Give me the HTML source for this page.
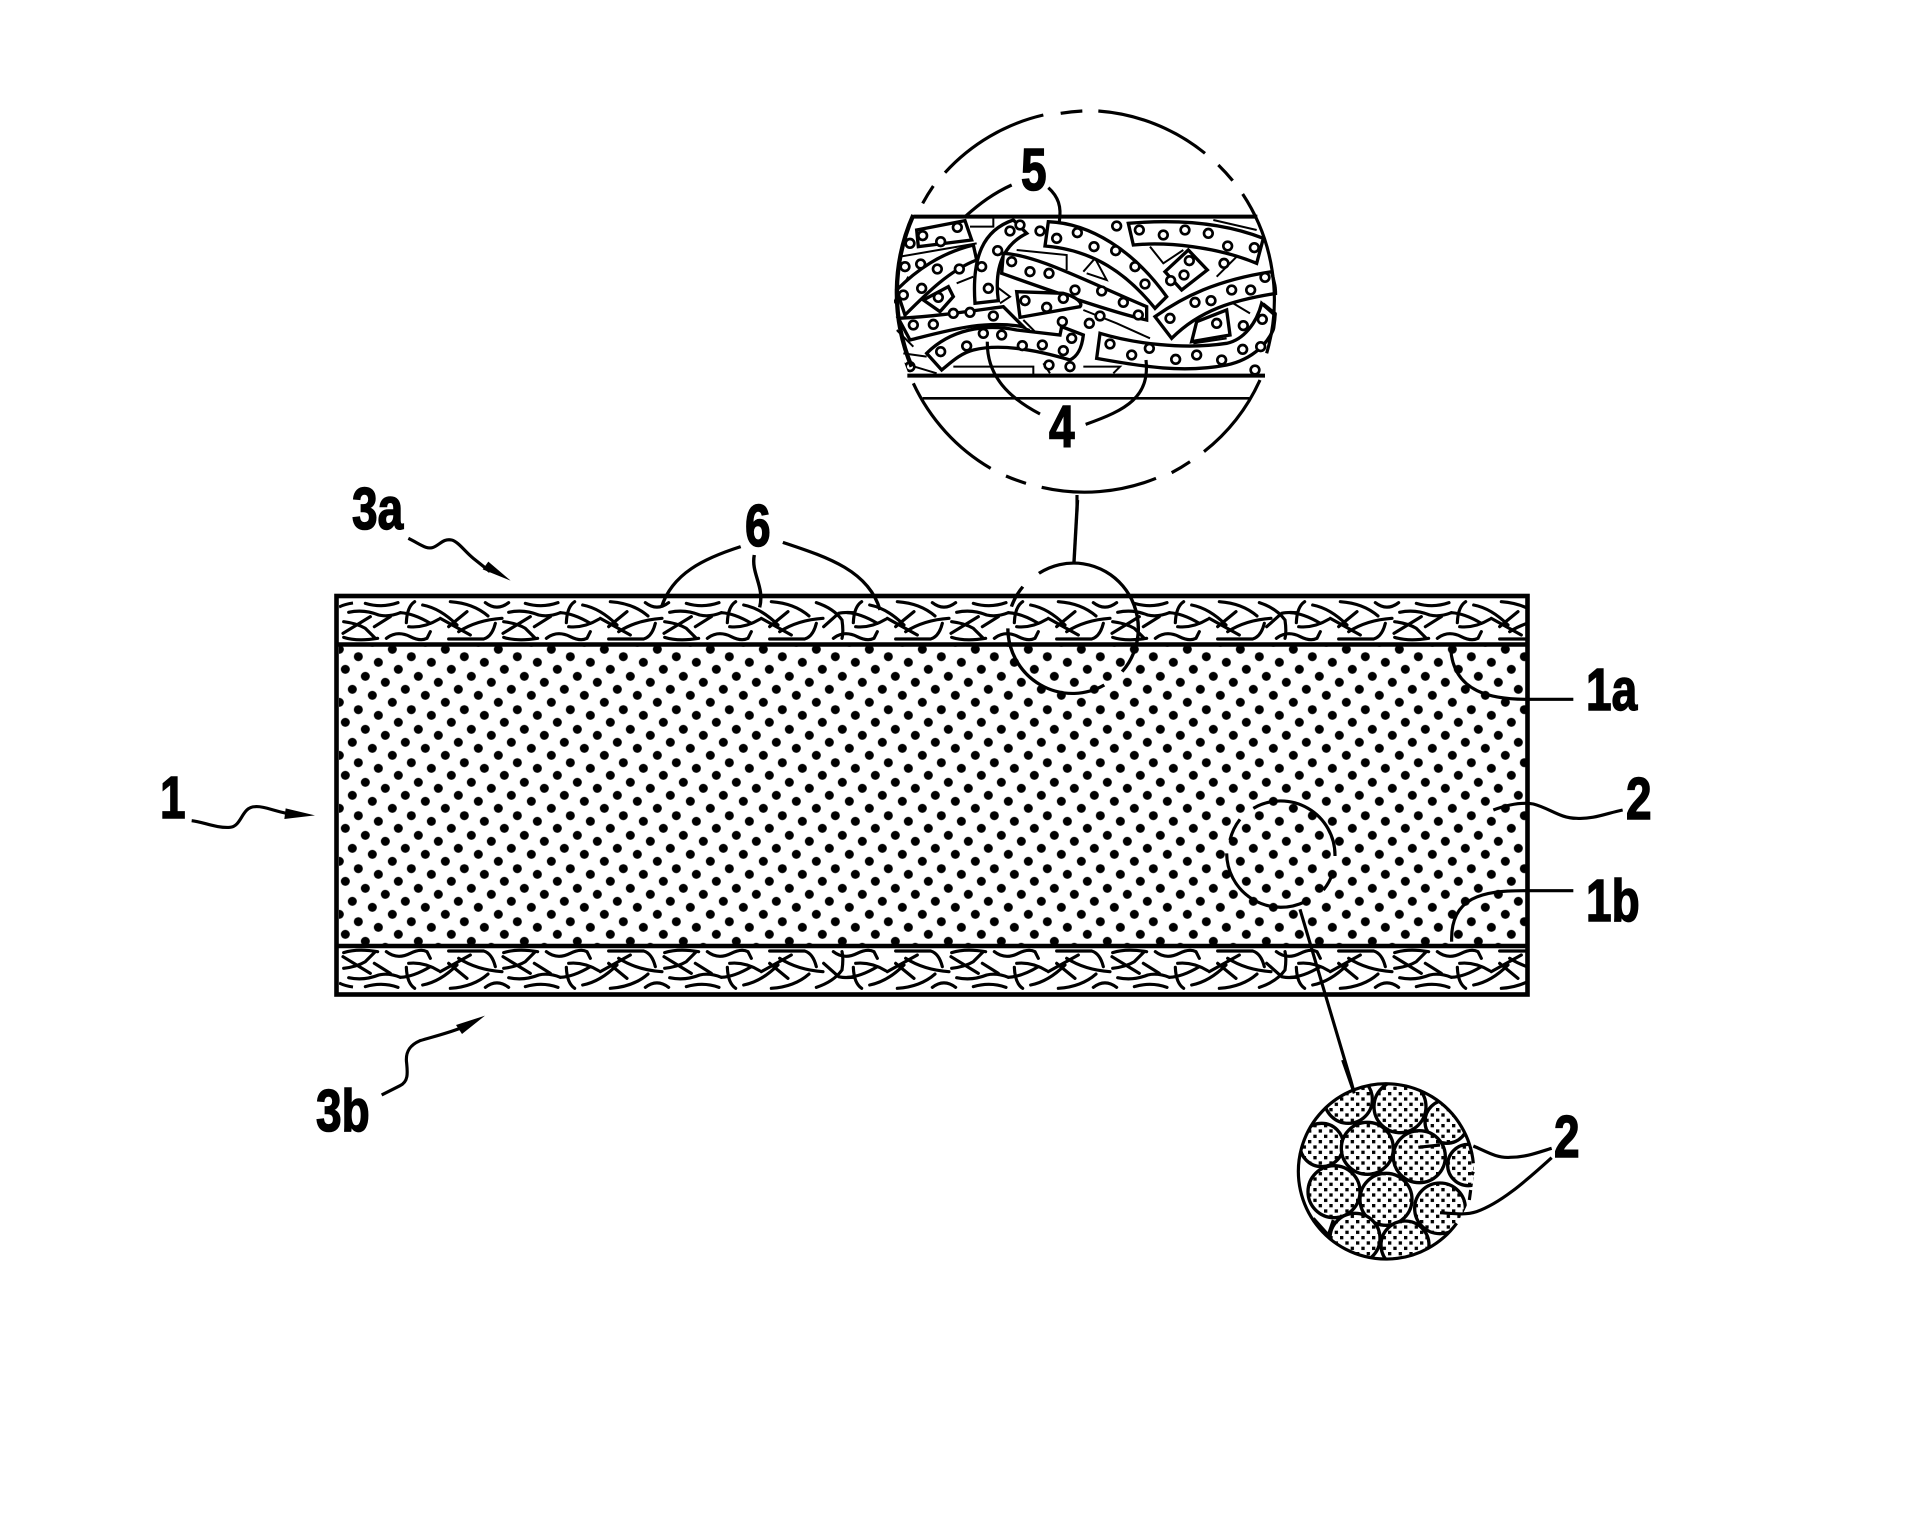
<!DOCTYPE html>
<html>
<head>
<meta charset="utf-8">
<style>
html,body{margin:0;padding:0;background:#fff;}
svg{display:block;}
text{font-family:"Liberation Sans",sans-serif;font-weight:bold;font-size:59px;fill:#000;stroke:#000;stroke-width:1.5px;}
</style>
</head>
<body>
<svg width="1915" height="1517" viewBox="0 0 1915 1517" xmlns="http://www.w3.org/2000/svg">
<defs>
<pattern id="dots" patternUnits="userSpaceOnUse" x="329.33" y="639.33" width="53" height="53">
<g fill="#000">
<circle cx="10" cy="10" r="4.5"/><circle cx="29" cy="17.33" r="4.5"/><circle cx="49" cy="23" r="4.5"/><circle cx="-4" cy="23" r="4.5"/>
<circle cx="16" cy="30" r="4.5"/><circle cx="36" cy="37" r="4.5"/><circle cx="56" cy="43" r="4.5"/><circle cx="3" cy="43" r="4.5"/>
<circle cx="23" cy="50" r="4.5"/><circle cx="23" cy="-3" r="4.5"/><circle cx="43" cy="56" r="4.5"/><circle cx="43" cy="3" r="4.5"/>
</g>
</pattern>
<pattern id="sq" patternUnits="userSpaceOnUse" width="32" height="32">
<rect width="32" height="32" fill="#fff"/>
<rect x="0" y="0" width="10" height="10" fill="#000"/>
<rect x="16" y="16" width="10" height="10" fill="#000"/>
</pattern>
<clipPath id="layer"><rect x="339" y="598" width="1187" height="44"/></clipPath>
<clipPath id="band"><path d="M130,380H1290V857H130Z"/></clipPath>
<clipPath id="bigc"><circle cx="707" cy="632" r="575"/></clipPath>
<clipPath id="grainc"><circle cx="379" cy="332" r="263"/></clipPath>

<g id="R" fill="none" stroke="#000" stroke-width="9.5" stroke-linecap="round">
<path d="M173,125Q150,140 148,188"/>
<path d="M197,135Q250,145 300,195"/>
<path d="M280,125Q350,130 393,168"/>
<path d="M330,155L275,200"/>
<path d="M250,175L340,225"/>
<path d="M435,175Q360,180 305,215"/>
<path d="M155,200Q200,205 245,178"/>
<path d="M88,235Q120,210 160,230Q190,245 210,235L220,215"/>
<path d="M275,237L380,237Q405,230 415,190"/>
<path d="M130,158Q170,160 220,190"/>
</g>
<g id="TL" fill="none" stroke="#000" stroke-width="9.5" stroke-linecap="round">
<path d="M-25,157Q20,147 65,165Q95,172 130,158"/>
<path d="M40,170L-42,220"/>
<path d="M-40,185Q0,190 25,205L55,235"/>
<path d="M-40,232Q0,245 62,235"/>
<path d="M100,170L52,200"/>
<path d="M25,130Q75,145 123,128"/>
</g>
<g id="VL" fill="none" stroke="#000" stroke-width="9.5" stroke-linecap="round">
<path d="M37,128Q89,145 114,180Q119,215 114,235"/>
<path d="M59,200L104,160Q120,156 149,158"/>
</g>
<path id="S" fill="none" stroke="#000" stroke-width="9.5" stroke-linecap="round" d="M385,128Q420,155 455,128"/>

<g id="fibres">
<path d="M339,607Q345,604 353,603" fill="none" stroke="#000" stroke-width="3"/>
<use href="#TL" transform="translate(357,560) scale(.3333)"/><use href="#R" transform="translate(357,560) scale(.3333)"/><use href="#S" transform="translate(357,560) scale(.3333)"/>
<use href="#TL" transform="translate(517,560) scale(.3333)"/><use href="#R" transform="translate(517,560) scale(.3333)"/><use href="#S" transform="translate(517,560) scale(.3333)"/>
<use href="#TL" transform="translate(678,560) scale(.3333)"/><use href="#R" transform="translate(678,560) scale(.3333)"/>
<use href="#VL" transform="translate(804,560) scale(.3333)"/><use href="#R" transform="translate(804,560) scale(.3333)"/><use href="#S" transform="translate(804,560) scale(.3333)"/>
<use href="#TL" transform="translate(965,560) scale(.3333)"/><use href="#R" transform="translate(965,560) scale(.3333)"/><use href="#S" transform="translate(965,560) scale(.3333)"/>
<use href="#TL" transform="translate(1126,560) scale(.3333)"/><use href="#R" transform="translate(1126,560) scale(.3333)"/>
<use href="#VL" transform="translate(1247,560) scale(.3333)"/><use href="#R" transform="translate(1247,560) scale(.3333)"/><use href="#S" transform="translate(1247,560) scale(.3333)"/>
<use href="#TL" transform="translate(1408,560) scale(.3333)"/><use href="#R" transform="translate(1408,560) scale(.3333)"/>
</g>
</defs>

<rect width="1915" height="1517" fill="#fff"/>

<!-- main body -->
<rect x="339" y="646" width="1187" height="299" fill="url(#dots)"/>
<g clip-path="url(#layer)"><use href="#fibres"/></g>
<g transform="matrix(1 0 0 -1 0 1590)"><g clip-path="url(#layer)"><use href="#fibres"/></g></g>
<rect x="336.5" y="596" width="1191" height="398.5" fill="none" stroke="#000" stroke-width="4.6"/>
<path d="M336,644.5H1528M336,946H1528" stroke="#000" stroke-width="4.6" fill="none"/>

<!-- top-left arrows -->
<g transform="translate(130,470) scale(.33333)" fill="none" stroke="#000" stroke-width="9.5">
<path d="M835,205C870,222 890,240 910,232C930,224 940,205 965,210C985,215 1005,245 1030,265L1080,305"/>
<path d="M185,1052C220,1056 260,1075 300,1072C335,1070 335,1010 375,1010C400,1008 430,1022 470,1030"/>
<polygon points="1142,332 1058,298 1075,275" fill="#000" stroke="none"/>
<polygon points="555,1036 463,1047 467,1015" fill="#000" stroke="none"/>
</g>
<g transform="translate(300,920) scale(.33333)" fill="none" stroke="#000" stroke-width="9.5">
<path d="M245,525L300,497C325,485 323,460 320,430C315,395 330,375 360,362C400,350 440,340 480,325"/>
<polygon points="555,287 468,315 486,342" fill="#000" stroke="none"/>
</g>

<!-- right leaders -->
<g transform="translate(1380,580) scale(.33333)" fill="none" stroke="#000" stroke-width="9.5">
<path d="M580,358L440,358C340,358 220,340 212,205"/>
<path d="M580,932L430,932C310,932 210,950 215,1085"/>
<path d="M340,690C380,675 420,665 460,672C510,685 540,715 590,715C640,718 680,700 728,690"/>
</g>

<!-- reference circle upper + 6 leaders -->
<g transform="translate(640,500) scale(.35714,.33333)" fill="none" stroke="#000" stroke-width="9.5">
<path d="M1117,220A181,196 0 0 1 1350,515"/>
<path d="M1072,260A181,196 0 0 0 1040,320"/>
<path d="M1300,555A181,196 0 0 1 1030,385"/>
<path d="M1225,0L1215,190"/>
<path d="M282,140C180,175 90,220 60,322"/>
<path d="M320,165C310,220 350,260 335,322"/>
<path d="M400,127C520,170 640,210 672,330"/>
</g>

<!-- reference circle lower -->
<g transform="translate(1130,780) scale(.33333)" fill="none" stroke="#000" stroke-width="9.5">
<path d="M370,85A163,163 0 0 1 615,228"/>
<path d="M608,280A163,163 0 0 1 580,330"/>
<path d="M525,365A163,163 0 0 1 290,220"/>
<path d="M300,180A163,163 0 0 1 330,118"/>
<path d="M510,388L662,900L725,1130"/>
</g>

<!-- big detail circle -->
<g transform="translate(850,90) scale(.33333)">
<g clip-path="url(#bigc)"><g clip-path="url(#band)">
<g fill="none" stroke="#000" stroke-width="6">
<path d="M360,410H430V385M700,545L735,505L770,570L710,550M900,470L940,520L1000,480M500,480L650,495V540M1090,390L1220,420M480,700L540,720M310,830H550V860M790,850L810,830H700M580,820L600,850M1150,640L1200,670M160,790L230,800M1030,760L1130,745M320,580L370,560M150,500L380,460M130,640L175,560M140,720L190,770M1240,640L1290,680M440,590L480,620L450,640M700,660L800,700L900,745M520,690L560,730M1100,560L1190,470M160,820L260,850"/>
</g>
<g fill="#fff" stroke="#000" stroke-width="10">
<path d="M200,420L345,392L365,450L205,470Z"/>
<path d="M145,685C250,680 350,665 460,650L520,710C400,690 300,720 180,750Z"/>
<path d="M140,600C200,540 270,490 370,465L380,510C300,540 230,610 165,675Z"/>
<path d="M220,630L295,590L310,620L270,665Z"/>
<path d="M375,640C365,500 400,420 490,390L530,430C470,460 430,520 445,632Z"/>
<path d="M460,490C560,495 700,570 890,650L890,690C800,670 650,620 455,550Z"/>
<path d="M500,605L640,610C680,620 700,640 690,650L510,682Z"/>
<path d="M595,395C720,400 850,480 950,620L915,655C830,550 730,480 585,468Z"/>
<path d="M835,400C950,390 1100,390 1240,445L1220,520C1100,470 950,455 850,465Z"/>
<path d="M945,545L1015,480L1072,540L995,600Z"/>
<path d="M915,680C1000,620 1100,570 1265,545L1280,610C1150,630 1050,660 965,745Z"/>
<path d="M1040,695L1130,660L1140,735L1025,755Z"/>
<path d="M230,790C300,720 400,700 500,720L630,735L635,710L700,735C695,780 680,800 660,810C560,780 450,760 370,780C330,790 300,820 275,840Z"/>
<path d="M750,730C850,760 1000,780 1130,760C1180,750 1220,700 1235,640L1280,680C1270,760 1200,810 1130,825C1000,850 880,830 740,805Z"/>
</g>
<g fill="#fff" stroke="#000" stroke-width="8">
<circle cx="218" cy="437" r="13"/><circle cx="272" cy="455" r="13"/><circle cx="322" cy="412" r="13"/><circle cx="180" cy="460" r="13"/>
<circle cx="160" cy="615" r="13"/><circle cx="215" cy="595" r="13"/><circle cx="262" cy="537" r="13"/><circle cx="328" cy="537" r="13"/><circle cx="212" cy="522" r="13"/><circle cx="165" cy="530" r="13"/>
<circle cx="265" cy="622" r="13"/>
<circle cx="480" cy="423" r="13"/><circle cx="443" cy="482" r="13"/><circle cx="395" cy="530" r="13"/><circle cx="415" cy="595" r="13"/>
<circle cx="620" cy="445" r="13"/><circle cx="682" cy="428" r="13"/><circle cx="732" cy="470" r="13"/><circle cx="797" cy="482" r="13"/><circle cx="855" cy="530" r="13"/><circle cx="885" cy="582" r="13"/>
<circle cx="868" cy="420" r="13"/><circle cx="940" cy="435" r="13"/><circle cx="1005" cy="420" r="13"/><circle cx="1075" cy="430" r="13"/><circle cx="1133" cy="468" r="13"/><circle cx="1213" cy="473" r="13"/>
<circle cx="485" cy="515" r="13"/><circle cx="540" cy="545" r="13"/><circle cx="597" cy="550" r="13"/><circle cx="675" cy="600" r="13"/><circle cx="755" cy="603" r="13"/><circle cx="820" cy="637" r="13"/>
<circle cx="525" cy="632" r="13"/><circle cx="590" cy="652" r="13"/><circle cx="640" cy="625" r="13"/>
<circle cx="960" cy="685" r="13"/><circle cx="1035" cy="637" r="13"/><circle cx="1083" cy="632" r="13"/><circle cx="1145" cy="600" r="13"/><circle cx="1202" cy="600" r="13"/><circle cx="1245" cy="562" r="13"/>
<circle cx="1018" cy="512" r="13"/><circle cx="1002" cy="555" r="13"/><circle cx="962" cy="572" r="13"/>
<circle cx="190" cy="705" r="13"/><circle cx="250" cy="703" r="13"/><circle cx="310" cy="670" r="13"/><circle cx="360" cy="667" r="13"/><circle cx="430" cy="678" r="13"/>
<circle cx="272" cy="785" r="13"/><circle cx="350" cy="768" r="13"/><circle cx="400" cy="730" r="13"/><circle cx="455" cy="735" r="13"/><circle cx="517" cy="767" r="13"/><circle cx="577" cy="765" r="13"/><circle cx="640" cy="782" r="13"/><circle cx="665" cy="745" r="13"/><circle cx="637" cy="695" r="13"/>
<circle cx="780" cy="762" r="13"/><circle cx="845" cy="795" r="13"/><circle cx="898" cy="775" r="13"/><circle cx="977" cy="808" r="13"/><circle cx="1040" cy="795" r="13"/><circle cx="1115" cy="810" r="13"/><circle cx="1178" cy="778" r="13"/><circle cx="1232" cy="770" r="13"/><circle cx="1180" cy="707" r="13"/><circle cx="1237" cy="688" r="13"/>
<circle cx="1100" cy="700" r="13"/>
<circle cx="800" cy="408" r="13"/><circle cx="570" cy="423" r="13"/><circle cx="510" cy="405" r="13"/><circle cx="1122" cy="520" r="13"/><circle cx="718" cy="700" r="13"/><circle cx="750" cy="678" r="13"/><circle cx="865" cy="675" r="13"/>
<circle cx="660" cy="830" r="13"/><circle cx="597" cy="825" r="13"/><circle cx="180" cy="830" r="13"/><circle cx="1215" cy="840" r="13"/>
</g>
</g></g>
<g fill="none" stroke="#000">
<path d="M190,380H1222M172,857H1245" stroke-width="12"/>
<path d="M218,925H1198" stroke-width="8"/>
<g stroke-width="9.5">
<path d="M285,248A575,575 0 0 1 580,75"/>
<path d="M632,70A575,575 0 0 1 697,63"/>
<path d="M745,63A575,575 0 0 1 1065,190"/>
<path d="M1105,225A575,575 0 0 1 1148,272"/>
<path d="M1178,312A575,575 0 0 1 1250,790"/>
<path d="M1230,870A575,575 0 0 1 1062,1085"/>
<path d="M1020,1115A575,575 0 0 1 965,1148"/>
<path d="M918,1165A575,575 0 0 1 575,1192"/>
<path d="M528,1180A575,575 0 0 1 468,1158"/>
<path d="M422,1135A575,575 0 0 1 190,880"/>
<path d="M250,288A575,575 0 0 0 218,340"/>
<path d="M190,375A575,575 0 0 0 185,830" stroke-width="13"/>
<path d="M485,285C430,310 390,340 345,380"/>
<path d="M595,293C625,320 635,350 628,395"/>
<path d="M570,972C480,925 410,860 412,755"/>
<path d="M707,1003C830,960 900,920 888,810"/>
<path d="M681,1215V1265"/>
</g>
</g>
</g>

<!-- grain detail circle -->
<g transform="translate(1260,1060) scale(.33333)">
<g clip-path="url(#grainc)">
<circle cx="379" cy="332" r="263" fill="#fff"/>
<g fill="url(#sq)" stroke="#000" stroke-width="10">
<circle cx="265" cy="118" r="72"/><circle cx="420" cy="140" r="78"/><circle cx="560" cy="185" r="65"/>
<circle cx="185" cy="255" r="65"/><circle cx="322" cy="265" r="78"/><circle cx="478" cy="290" r="78"/>
<circle cx="625" cy="315" r="62"/><circle cx="222" cy="395" r="78"/><circle cx="378" cy="418" r="78"/>
<circle cx="540" cy="445" r="76"/><circle cx="285" cy="535" r="75"/><circle cx="435" cy="555" r="72"/>
</g>
</g>
<g fill="none" stroke="#000" stroke-width="9.5">
<path d="M590,490A263,263 0 1 1 640,310"/>
<path d="M640,335L636,345M632,390L628,420"/>
<path d="M640,258C680,275 710,295 750,292C800,292 840,275 875,265"/>
<path d="M540,458C590,462 620,465 650,455C720,430 790,370 875,293"/>
<path d="M475,262L540,255"/>
<path d="M248,0L283,100"/>
<path d="M160,475L205,525L220,480"/>
</g>
</g>

<!-- labels -->
<text transform="translate(352,529) scale(.78,1)">3a</text>
<text transform="translate(160,818) scale(.78,1)">1</text>
<text transform="translate(316,1131) scale(.78,1)">3b</text>
<text transform="translate(745,546) scale(.78,1)">6</text>
<text transform="translate(1021,190) scale(.78,1)">5</text>
<text transform="translate(1049,447) scale(.78,1)">4</text>
<text transform="translate(1586,710) scale(.78,1)">1a</text>
<text transform="translate(1626,819) scale(.78,1)">2</text>
<text transform="translate(1586,921) scale(.78,1)">1b</text>
<text transform="translate(1554,1157) scale(.78,1)">2</text>
</svg>
</body>
</html>
